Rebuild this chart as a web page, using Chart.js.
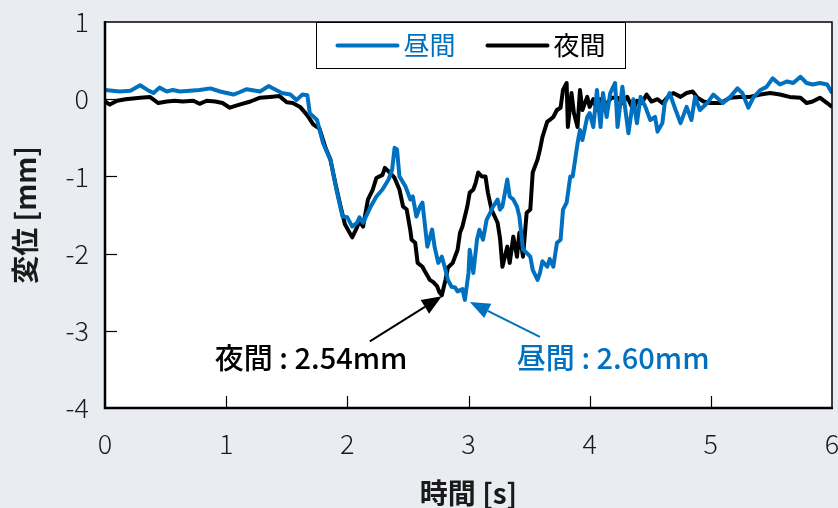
<!DOCTYPE html>
<html>
<head>
<meta charset="utf-8">
<script src="https://cdn.jsdelivr.net/npm/chart.js@4/dist/chart.umd.min.js"></script>
<style>
  html, body { margin: 0; padding: 0; background: #e9edf2; }
  #wrap { width: 838px; height: 508px; }
</style>
</head>
<body>
<div id="wrap"><canvas id="c" width="838" height="508"></canvas></div>
<script>
// Displacement records [mm] against time [s]
const dayTime = [0.00,0.06,0.12,0.21,0.29,0.35,0.40,0.45,0.51,0.56,0.62,0.70,0.78,0.87,0.95,1.06,1.11,1.17,1.28,1.35,1.40,1.46,1.53,1.58,1.63,1.67,1.69,1.75,1.80,1.86,1.91,1.96,2.00,2.04,2.08,2.10,2.13,2.19,2.24,2.29,2.34,2.37,2.39,2.41,2.43,2.48,2.52,2.54,2.57,2.60,2.62,2.66,2.70,2.72,2.75,2.78,2.81,2.83,2.86,2.89,2.91,2.95,2.97,3.00,3.01,3.04,3.07,3.09,3.12,3.15,3.18,3.20,3.24,3.26,3.28,3.32,3.34,3.37,3.40,3.42,3.45,3.48,3.51,3.53,3.57,3.59,3.61,3.65,3.67,3.70,3.73,3.76,3.78,3.81,3.84,3.86,3.90,3.92,3.94,3.98,4.00,4.03,4.06,4.09,4.11,4.14,4.17,4.21,4.23,4.27,4.32,4.36,4.39,4.42,4.46,4.50,4.54,4.56,4.60,4.62,4.66,4.70,4.75,4.80,4.84,4.87,4.91,4.97,5.02,5.10,5.16,5.22,5.26,5.31,5.35,5.41,5.46,5.51,5.57,5.63,5.68,5.74,5.79,5.84,5.90,5.96,6.00];
const dayDisp = [0.12,0.11,0.10,0.11,0.18,0.12,0.08,0.15,0.10,0.12,0.10,0.11,0.12,0.14,0.10,0.06,0.09,0.13,0.10,0.17,0.13,0.08,0.06,-0.01,0.06,0.05,-0.18,-0.27,-0.57,-0.78,-1.17,-1.52,-1.53,-1.65,-1.60,-1.53,-1.60,-1.40,-1.26,-1.17,-1.04,-0.91,-0.63,-0.65,-1.00,-1.13,-1.30,-1.26,-1.52,-1.39,-1.34,-1.91,-1.69,-1.91,-2.12,-2.04,-2.21,-2.34,-2.43,-2.44,-2.49,-2.46,-2.60,-2.25,-1.95,-2.25,-1.82,-1.69,-1.82,-1.56,-1.47,-1.40,-1.30,-1.43,-1.39,-1.04,-1.26,-1.30,-1.39,-1.52,-1.95,-1.99,-2.04,-2.21,-2.34,-2.25,-2.10,-2.17,-2.07,-2.17,-1.86,-1.82,-1.43,-1.34,-1.00,-1.00,-0.57,-0.40,-0.53,-0.23,-0.18,-0.36,0.12,-0.36,0.08,-0.23,0.08,0.21,-0.36,0.16,-0.44,0.00,-0.31,0.03,-0.10,-0.27,-0.23,-0.42,-0.31,-0.05,0.08,-0.10,-0.31,-0.10,-0.27,0.03,-0.14,-0.05,0.06,-0.05,0.03,0.14,0.08,-0.11,0.02,0.12,0.16,0.27,0.19,0.23,0.21,0.29,0.21,0.19,0.21,0.19,0.08];

const nightTime = [0.00,0.04,0.10,0.17,0.23,0.29,0.37,0.44,0.51,0.58,0.64,0.73,0.78,0.84,0.91,0.97,1.03,1.11,1.20,1.28,1.36,1.44,1.50,1.55,1.61,1.67,1.72,1.77,1.82,1.86,1.90,1.94,1.98,2.04,2.08,2.10,2.13,2.17,2.21,2.24,2.29,2.31,2.35,2.39,2.43,2.46,2.49,2.52,2.53,2.56,2.58,2.62,2.64,2.68,2.71,2.74,2.76,2.78,2.81,2.83,2.87,2.91,2.93,2.95,2.99,3.01,3.04,3.06,3.08,3.11,3.14,3.16,3.19,3.24,3.26,3.28,3.32,3.34,3.37,3.40,3.42,3.45,3.48,3.51,3.53,3.57,3.59,3.61,3.65,3.67,3.70,3.73,3.76,3.78,3.81,3.82,3.85,3.87,3.90,3.92,3.94,3.98,4.00,4.03,4.06,4.09,4.14,4.18,4.23,4.27,4.31,4.36,4.39,4.43,4.47,4.51,4.56,4.60,4.64,4.69,4.75,4.80,4.85,4.89,4.94,4.99,5.08,5.16,5.24,5.32,5.41,5.49,5.57,5.65,5.74,5.79,5.84,5.90,5.96,6.00];
const nightDisp = [-0.03,-0.07,-0.02,0.00,0.01,0.02,0.03,-0.05,-0.03,-0.02,-0.03,-0.02,-0.06,-0.02,-0.03,-0.05,-0.11,-0.07,-0.03,0.02,0.03,0.04,-0.04,-0.05,-0.10,-0.21,-0.33,-0.38,-0.63,-0.78,-1.08,-1.36,-1.62,-1.79,-1.66,-1.58,-1.65,-1.30,-1.17,-1.02,-0.98,-0.89,-0.95,-1.02,-1.17,-1.39,-1.43,-1.70,-1.82,-1.86,-2.12,-2.17,-2.23,-2.34,-2.37,-2.42,-2.50,-2.54,-2.34,-2.18,-2.12,-1.95,-1.73,-1.65,-1.39,-1.21,-1.17,-1.08,-0.95,-1.00,-1.00,-1.21,-1.43,-1.60,-1.80,-2.17,-1.91,-2.12,-1.78,-2.04,-1.73,-2.04,-1.47,-1.43,-0.95,-0.78,-0.65,-0.49,-0.29,-0.27,-0.23,-0.14,-0.11,0.12,0.21,-0.36,0.08,-0.18,-0.36,0.12,-0.14,0.03,-0.10,0.00,-0.14,0.00,-0.06,0.02,0.02,-0.05,0.03,-0.14,-0.02,-0.05,0.06,-0.03,0.00,-0.05,0.02,0.08,0.03,0.08,0.10,0.02,-0.03,-0.05,-0.05,0.02,0.03,0.03,0.06,0.08,0.06,0.03,0.02,-0.05,-0.03,0.02,-0.05,-0.10];

const xTicks = [0, 1, 2, 3, 4, 5, 6];
const yTicks = [1, 0, -1, -2, -3, -4];
const seriesNames = ['昼間', '夜間'];
const seriesColors = ['#0070c0', '#000000'];
const peakTexts = ['昼間 : 2.60mm', '夜間 : 2.54mm'];

const JP = '"Noto Sans CJK JP", "Noto Sans", sans-serif';
const JP_LIGHT = '"Noto Sans CJK JP Light", "Noto Sans CJK JP", "Noto Sans", sans-serif';

function pairs(ts, vs) { return ts.map((t, i) => ({ x: t, y: vs[i] })); }

// white plot area, frame with inward tick marks
const framePlugin = {
  id: 'frame',
  beforeDatasetsDraw(chart) {
    const { ctx, chartArea: a } = chart;
    ctx.save();
    ctx.fillStyle = '#ffffff';
    ctx.fillRect(a.left, a.top, a.right - a.left, a.bottom - a.top);
    ctx.restore();
  },
  afterDatasetsDraw(chart) {
    const { ctx, chartArea: a, scales } = chart;
    ctx.save();
    ctx.strokeStyle = '#000';
    ctx.lineWidth = 1.2;
    xTicks.slice(1, -1).forEach(v => {
      const px = Math.round(scales.x.getPixelForValue(v)) + 0.5;
      ctx.beginPath(); ctx.moveTo(px, a.bottom); ctx.lineTo(px, a.bottom - 12); ctx.stroke();
    });
    yTicks.slice(1, -1).forEach(v => {
      const py = Math.round(scales.y.getPixelForValue(v)) + 0.5;
      ctx.beginPath(); ctx.moveTo(a.left, py); ctx.lineTo(a.left + 12, py); ctx.stroke();
    });
    ctx.lineWidth = 1.5;
    ctx.beginPath();
    ctx.moveTo(a.left, a.top); ctx.lineTo(a.right, a.top); ctx.lineTo(a.right, a.bottom);
    ctx.stroke();
    ctx.lineWidth = 2.5;
    ctx.beginPath();
    ctx.moveTo(a.left, a.top - 1); ctx.lineTo(a.left, a.bottom); ctx.lineTo(a.right + 1, a.bottom);
    ctx.stroke();
    ctx.restore();
  }
};

// boxed legend at the top of the plot area
const boxLegendPlugin = {
  id: 'boxLegend',
  afterDatasetsDraw(chart) {
    const { ctx, chartArea: a } = chart;
    const w = 309, h = 46;
    const left = Math.round((a.left + a.right) / 2 - w / 2 + 2) + 0.5;
    const top = a.top + 0.5;
    ctx.save();
    ctx.fillStyle = '#fff';
    ctx.fillRect(left, top, w, h);
    ctx.strokeStyle = '#000';
    ctx.lineWidth = 1;
    ctx.strokeRect(left, top, w, h);
    ctx.font = '26px ' + JP;
    ctx.textBaseline = 'middle';
    const cy = top + h / 2;
    const starts = [left + 21, left + 171];
    chart.data.datasets.forEach((ds, i) => {
      const x0 = starts[i];
      ctx.strokeStyle = ds.borderColor;
      ctx.lineWidth = 4;
      ctx.lineCap = 'round';
      ctx.beginPath(); ctx.moveTo(x0, cy); ctx.lineTo(x0 + 60, cy); ctx.stroke();
      ctx.fillStyle = ds.borderColor;
      ctx.textAlign = 'left';
      ctx.fillText(ds.label, x0 + 66, cy);
    });
    ctx.restore();
  }
};

// arrows pointing at each record's deepest point, with the value label
const peakPlugin = {
  id: 'peaks',
  afterDatasetsDraw(chart) {
    const { ctx, scales } = chart;
    // per series: arrow start offset and label anchor, relative to the minimum point
    const layout = [
      { from: [75, 37], tip: [5, 2], text: [52, 58] },
      { from: [-72, 46], tip: [0, 1], text: [-227, 63] }
    ];
    ctx.save();
    chart.data.datasets.forEach((ds, i) => {
      let m = ds.data[0];
      ds.data.forEach(p => { if (p.y < m.y) m = p; });
      const px = scales.x.getPixelForValue(m.x);
      const py = scales.y.getPixelForValue(m.y);
      const L = layout[i];
      const tx = px + L.tip[0], ty = py + L.tip[1];
      const sx = px + L.from[0], sy = py + L.from[1];
      const ang = Math.atan2(ty - sy, tx - sx);
      const hl = 20, hw = 8;
      const bx = tx - hl * Math.cos(ang), by = ty - hl * Math.sin(ang);
      ctx.strokeStyle = ds.borderColor;
      ctx.fillStyle = ds.borderColor;
      ctx.lineWidth = 2;
      ctx.beginPath(); ctx.moveTo(sx, sy); ctx.lineTo(bx, by); ctx.stroke();
      ctx.beginPath();
      ctx.moveTo(tx, ty);
      ctx.lineTo(bx + hw * Math.sin(ang), by - hw * Math.cos(ang));
      ctx.lineTo(bx - hw * Math.sin(ang), by + hw * Math.cos(ang));
      ctx.closePath(); ctx.fill();
      ctx.font = '500 29px ' + JP;
      ctx.textAlign = 'left';
      ctx.textBaseline = 'middle';
      ctx.fillText(peakTexts[i], px + L.text[0], py + L.text[1]);
    });
    ctx.restore();
  }
};

new Chart(document.getElementById('c'), {
  type: 'line',
  data: {
    datasets: [
      { label: seriesNames[0], data: pairs(dayTime, dayDisp), borderColor: seriesColors[0], borderWidth: 4, pointRadius: 0, tension: 0, borderJoinStyle: 'round' },
      { label: seriesNames[1], data: pairs(nightTime, nightDisp), borderColor: seriesColors[1], borderWidth: 4, pointRadius: 0, tension: 0, borderJoinStyle: 'round' }
    ]
  },
  options: {
    responsive: false,
    animation: false,
    devicePixelRatio: 1,
    layout: { padding: { top: 22, right: 6, left: 0, bottom: 0 } },
    plugins: { legend: { display: false }, tooltip: { enabled: false } },
    scales: {
      x: {
        type: 'linear', min: 0, max: 6,
        afterFit(s) { s.height = 100; s.paddingLeft = 0; s.paddingRight = 0; },
        afterBuildTicks(s) { s.ticks = xTicks.map(v => ({ value: v })); },
        grid: { display: false, drawTicks: false },
        border: { display: false },
        ticks: { padding: 20, color: '#1a1a1a', font: { family: JP_LIGHT, size: 27, weight: 300 } },
        title: { display: true, text: '時間 [s]', color: '#1a1a1a', padding: { top: 0, bottom: 1 }, font: { family: JP, size: 28, weight: 'bold', lineHeight: 1 } }
      },
      y: {
        type: 'linear', min: -4, max: 1,
        afterFit(s) { s.width = 105; s.paddingTop = 0; s.paddingBottom = 0; },
        afterBuildTicks(s) { s.ticks = yTicks.map(v => ({ value: v })); },
        grid: { display: false, drawTicks: false },
        border: { display: false },
        ticks: { padding: 16, color: '#1a1a1a', font: { family: JP_LIGHT, size: 27, weight: 300 } },
        title: { display: true, text: '変位 [mm]', color: '#1a1a1a', padding: { top: 11, bottom: 0 }, font: { family: JP, size: 28, weight: 'bold', lineHeight: 1 } }
      }
    }
  },
  plugins: [framePlugin, boxLegendPlugin, peakPlugin]
});
</script>
</body>
</html>
